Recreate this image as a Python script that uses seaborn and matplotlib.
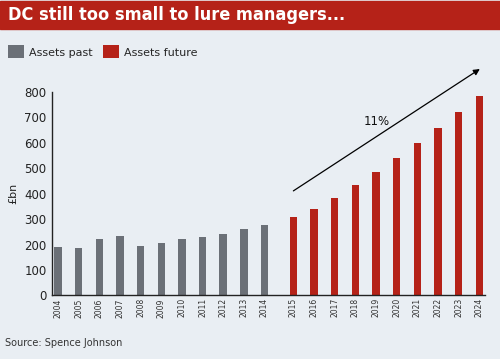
import matplotlib
matplotlib.use("Agg")
import matplotlib.pyplot as plt
from matplotlib.patches import Rectangle
import seaborn as sns
import pandas as pd

# data
past_years = [2004, 2005, 2006, 2007, 2008, 2009, 2010, 2011, 2012, 2013, 2014]
past_values = [189, 187, 223, 233, 193, 206, 223, 231, 240, 260, 276]
future_years = [2015, 2016, 2017, 2018, 2019, 2020, 2021, 2022, 2023, 2024]
future_values = [309, 341, 383, 433, 484, 539, 598, 657, 720, 785]
series_names = ["Assets past", "Assets future"]
growth_label = "11%"

BG = "#e9eef3"
RED = "#b52218"
GREY = "#6b7077"

# past bars on 0..10, future bars shifted right to leave a small gap
gap = 0.4
pos_past = [i for i in range(len(past_years))]
pos_future = [len(past_years) + gap + i for i in range(len(future_years))]

df = pd.DataFrame({
    "pos": pos_past + pos_future,
    "year": past_years + future_years,
    "value": past_values + future_values,
    "series": [series_names[0]] * len(past_years) + [series_names[1]] * len(future_years),
})

sns.set_style("white")
plt.rcParams["font.family"] = ["DejaVu Sans"]

fig = plt.figure(figsize=(5, 3.59), dpi=100, facecolor=BG)
ax = fig.add_axes([0.104, 0.177, 0.866, 0.567])
ax.set_facecolor(BG)

sns.barplot(data=df, x="pos", y="value", hue="series", native_scale=True,
            dodge=False, width=0.36, palette=[GREY, RED], saturation=1,
            linewidth=0, ax=ax)

ax.set_ylim(0, 800)
ax.set_xlim(-0.29, pos_future[-1] + 0.28)
ax.set_yticks(range(0, 801, 100))
ax.set_xticks(df["pos"])
ax.set_xticklabels(df["year"], rotation=90, fontsize=5.5, color="#333333")
ax.tick_params(axis="y", labelsize=8.5, colors="#222222", length=0, pad=4)
ax.tick_params(axis="x", length=0, pad=2)
ax.set_xlabel("")
ax.set_ylabel("£bn", fontsize=8, color="#222222", labelpad=4)
for s in ["top", "right"]:
    ax.spines[s].set_visible(False)
for s in ["left", "bottom"]:
    ax.spines[s].set_color("#222222")
    ax.spines[s].set_linewidth(1.0)

# growth arrow
ax.annotate("", xy=(pos_future[-1] + 0.03, 890), xytext=(pos_future[0], 411),
            arrowprops=dict(arrowstyle="-|>", color="black", lw=0.9,
                            mutation_scale=9, shrinkA=0, shrinkB=0),
            annotation_clip=False)
ax.text(15.46, 682, growth_label, fontsize=8.5, ha="center", va="center", color="#111111")

# legend
handles, labels = ax.get_legend_handles_labels()
if ax.legend_:
    ax.legend_.remove()
fig.legend(handles, labels, loc="upper left", bbox_to_anchor=(0.016, 0.874),
           ncol=2, frameon=False, fontsize=8.0, handlelength=1.45, handleheight=1.45,
           handletextpad=0.45, columnspacing=0.9, borderpad=0, borderaxespad=0)

# title bar
fig.add_artist(Rectangle((0, 1 - 29 / 359), 1, 28 / 359, transform=fig.transFigure,
                         color=RED, zorder=0))
fig.text(0.016, 1 - 15 / 359, "DC still too small to lure managers...", color="white",
         fontsize=13, fontweight="bold", fontstretch="condensed", family="DejaVu Sans",
         va="center", ha="left")

fig.text(0.01, 1 - 343 / 359, "Source: Spence Johnson", fontsize=7, color="#333333",
         va="center", ha="left")

fig.savefig("out.png", dpi=100, facecolor=BG)
